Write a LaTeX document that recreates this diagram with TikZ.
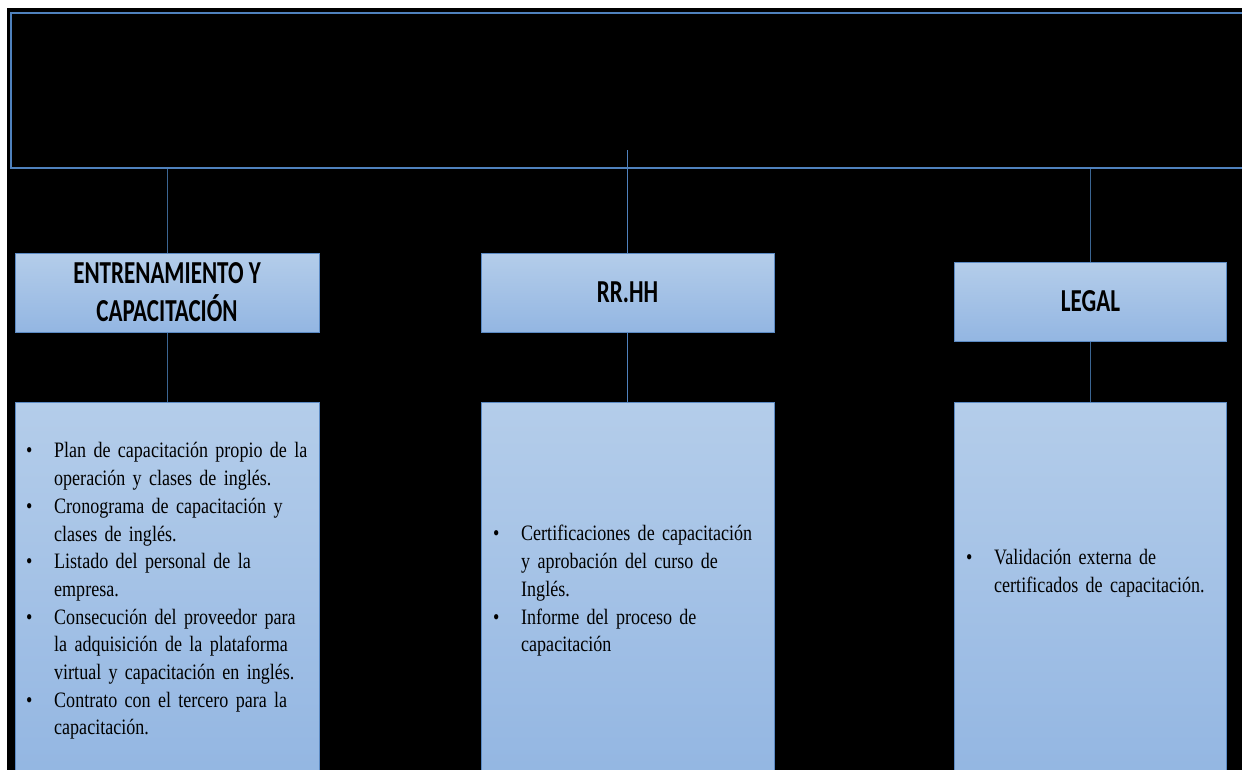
\documentclass[tikz,border=0pt]{standalone}
\usepackage{fontspec}
\setmainfont{Liberation Serif}
\newfontfamily\hdrfont[FakeStretch=0.72]{Carlito}
\newfontfamily\listfont[FakeStretch=0.82]{Liberation Serif}
\definecolor{frameblue}{HTML}{4F81BD}
\definecolor{boxedge}{HTML}{5B8AC4}
\definecolor{boxtop}{HTML}{B4CDEA}
\definecolor{boxbot}{HTML}{93B6E2}
\definecolor{sideline}{HTML}{3B6592}
% one bulleted entry with a hanging indent; \newline keeps the indent
\newcommand{\bitem}[1]{\par\hangindent=28pt\hangafter=1\noindent
  \vrule height 18pt width 0pt\makebox[28pt][l]{\textbullet}#1\par}
\tikzset{
  hdr/.style={draw=boxedge, line width=1pt, top color=boxtop, bottom color=boxbot,
    inner sep=0pt, align=center, font=\hdrfont\bfseries\fontsize{32}{38}\selectfont},
  bodybox/.style={draw=boxedge, line width=1pt, top color=boxtop, bottom color=boxbot,
    inner sep=0pt, anchor=north},
  listtxt/.style={inner sep=0pt, anchor=north west,
    font=\listfont\fontsize{22}{27.7}\selectfont},
  conn/.style={draw=frameblue, line width=0.8pt},
  sideconn/.style={draw=sideline, line width=1pt}
}
\begin{document}
\begin{tikzpicture}[x=1pt,y=-1pt]
\useasboundingbox (0,0) rectangle (1242,769);
\fill[white] (0,0) rectangle (1242,769);
\fill[black] (7,8) rectangle (1250,780);

% heading band across the top
\node[draw=frameblue, line width=2pt, fill=black, anchor=north west,
  minimum width=1240, minimum height=155, inner sep=0pt] (top) at (10,12) {};

% area headings
\node[hdr, minimum width=304, minimum height=79] (ent) at (167,292.5)
  {ENTRENAMIENTO Y\\CAPACITACIÓN};
\node[hdr, minimum width=293, minimum height=79] (rrhh) at (627.5,292.5) {RR.HH};
\node[hdr, minimum width=272, minimum height=79] (legal) at (1090.5,301.5) {LEGAL};

% deliverable boxes (running past the lower edge)
\node[bodybox, minimum width=304, minimum height=375] (entbody) at (167,402) {};
\node[bodybox, minimum width=293, minimum height=375] (rrhhbody) at (627.5,402) {};
\node[bodybox, minimum width=272, minimum height=375] (legalbody) at (1090.5,402) {};

% connectors
\coordinate (mtop) at (627.5,150);
\draw[sideconn] (ent.north |- top.south) -- (ent.north);
\draw[conn] (mtop) -- (rrhh.north);
\draw[sideconn] (legal.north |- top.south) -- (legal.north);
\draw[sideconn] (ent.south) -- (entbody.north);
\draw[conn] (rrhh.south) -- (rrhhbody.north);
\draw[sideconn] (legal.south) -- (legalbody.north);

% lists
\node[listtxt, text width=330] (entlist) at (26,430) {\raggedright
  \bitem{Plan de capacitación propio de la\newline operación y clases de inglés.}
  \bitem{Cronograma de capacitación y\newline clases de inglés.}
  \bitem{Listado del personal de la\newline empresa.}
  \bitem{Consecución del proveedor para\newline la adquisición de la plataforma\newline virtual y capacitación en inglés.}
  \bitem{Contrato con el tercero para la\newline capacitación.}};
\node[listtxt, text width=330] (rrhhlist) at (493,513) {\raggedright
  \bitem{Certificaciones de capacitación\newline y aprobación del curso de\newline Inglés.}
  \bitem{Informe del proceso de\newline capacitación}};
\node[listtxt, text width=330] (legallist) at (966,537) {\raggedright
  \bitem{Validación externa de\newline certificados de capacitación.}};
\end{tikzpicture}
\end{document}
